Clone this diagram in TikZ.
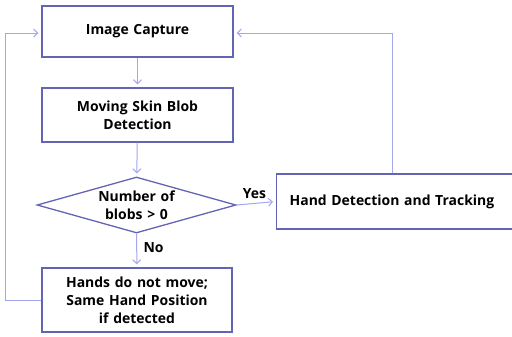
\documentclass[tikz,border=0pt]{standalone}
\usepackage{fontspec}
\setmainfont[WordSpace={1.3}]{Open Sans}
\usetikzlibrary{shapes.geometric,arrows.meta}
\definecolor{boxline}{RGB}{100,100,180}
\definecolor{flowline}{RGB}{165,165,240}
\begin{document}
\begin{tikzpicture}[x=1bp,y=-1bp,
  every node/.style={font=\bfseries\fontsize{14}{18}\selectfont, text=black},
  procbox/.style={draw=boxline, line width=1.3bp, fill=white, rectangle, align=center, inner sep=0pt},
  decision/.style={draw=boxline, line width=1.3bp, fill=white, diamond, aspect=3.55, align=center, inner sep=0pt, minimum width=199bp, minimum height=56bp},
  flow/.style={draw=flowline, line width=1bp, -{Straight Barb[length=4bp,width=8bp]}, shorten >=3bp},
  lbl/.style={font=\bfseries\fontsize{14}{18}\selectfont}
]
\useasboundingbox (0,0) rectangle (512,336);
\node[procbox, minimum width=191bp, minimum height=51bp] (cap) at (137.5,31.5) {Image Capture};
\node[procbox, minimum width=191bp, minimum height=54bp] (blob) at (137.5,115) {Moving Skin Blob\\Detection};
\node[decision] (dec) at (136.5,205) {\rule{0pt}{0pt}};
\node[align=center] (declabel) at (dec.center) {Number of\\blobs \textgreater{} 0};
\node[procbox, minimum width=190bp, minimum height=64bp] (still) at (137,300) {Hands do not move;\\Same Hand Position\\if detected};
\node[procbox, minimum width=250bp, minimum height=55bp, anchor=west, text width=250bp, align=left] (track) at (276,201.5) {\hspace*{13bp}Hand Detection and Tracking};
\coordinate (lcorner) at (5,300);
\coordinate (ltop) at (5,33);
\coordinate (rtop) at (392,33);
\draw[flow] (cap) -- (blob);
\draw[flow] (blob) -- (dec);
\draw[flow] (dec) -- (still) node[lbl, pos=0.4, right=3bp] {No};
\draw[flow] (dec.east) -- (track.west) node[lbl, pos=0.45, above=1bp] {Yes};
\draw[flow] (still.west) -- (lcorner) -- (ltop) -- (cap.west |- ltop);
\draw[flow] (track.north -| rtop) -- (rtop) -- (cap.east |- rtop);
\end{tikzpicture}
\end{document}
